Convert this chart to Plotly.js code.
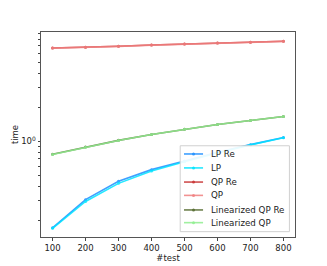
<!DOCTYPE html>
<html><head><meta charset="utf-8">
<script src="https://cdn.plot.ly/plotly-3.0.1.min.js"></script>
<style>html,body{margin:0;padding:0;background:#fff}#c{width:327px;height:266px}</style>
</head><body><div id="c"></div>
<script>
const nTest = [100, 200, 300, 400, 500, 600, 700, 800];
const lpRe = [0.172, 0.305, 0.443, 0.562, 0.67, 0.80, 0.935, 1.08];
const lp = [0.170, 0.294, 0.425, 0.546, 0.66, 0.79, 0.93, 1.075];
const qpRe = [6.70, 6.79, 6.93, 7.11, 7.26, 7.41, 7.52, 7.67];
const qp = [6.68, 6.78, 6.92, 7.10, 7.25, 7.40, 7.51, 7.66];
const linQpRe = [0.770, 0.89, 1.02, 1.15, 1.28, 1.41, 1.53, 1.66];
const linQp = [0.765, 0.888, 1.018, 1.148, 1.278, 1.408, 1.528, 1.658];
const seriesNames = ['LP Re', 'LP', 'QP Re', 'QP', 'Linearized QP Re', 'Linearized QP'];
const seriesColors = ['#1e90ff', '#00e5ff', '#c83232', '#f08080', '#556b2f', '#90ee90'];
const seriesValues = [lpRe, lp, qpRe, qp, linQpRe, linQp];
const yTickVals = [0.2,0.3,0.4,0.5,0.6,0.7,0.8,0.9,1,2,3,4,5,6,7,8,9];
const yTickText = yTickVals.map(v => v === 1 ? '10<sup>0</sup>' : '');
const xTickVals = [100,200,300,400,500,600,700,800];

const data = seriesNames.map((name, i) => ({
  x: nTest, y: seriesValues[i], name: name, type: 'scatter', mode: 'lines+markers',
  line: {color: seriesColors[i], width: 1.6}, marker: {color: seriesColors[i], size: 3},
  opacity: 0.85, showlegend: false
}));

// hand-built legend (compact, matplotlib-like spacing)
const legX0 = 0.548, legX1 = 0.978, legY0 = 0.026, legY1 = 0.445;
const rowY = [0.405, 0.337, 0.268, 0.203, 0.132, 0.070];
const shapes = [{type: 'rect', xref: 'paper', yref: 'paper', x0: legX0, x1: legX1, y0: legY0, y1: legY1,
  line: {color: '#d0d0d0', width: 1}, fillcolor: 'rgba(255,255,255,0.9)', layer: 'above'}];
const annotations = [];
seriesNames.forEach((name, i) => {
  shapes.push({type: 'line', xref: 'paper', yref: 'paper', x0: 0.563, x1: 0.638, y0: rowY[i], y1: rowY[i],
    line: {color: seriesColors[i], width: 1.6}, opacity: 0.85, layer: 'above'});
  shapes.push({type: 'circle', xref: 'paper', yref: 'paper', xsizemode: 'pixel', ysizemode: 'pixel',
    xanchor: 0.6005, yanchor: rowY[i], x0: -1.5, x1: 1.5, y0: -1.5, y1: 1.5,
    fillcolor: seriesColors[i], line: {width: 0}, opacity: 0.85, layer: 'above'});
  annotations.push({xref: 'paper', yref: 'paper', x: 0.66, y: rowY[i], xanchor: 'left', yanchor: 'middle',
    text: name, showarrow: false, font: {family: 'DejaVu Sans', size: 8.7, color: '#222'}});
});

const font = {family: 'DejaVu Sans', size: 8.5, color: '#222'};
const layout = {
  width: 327, height: 266,
  margin: {l: 41, r: 32, t: 32, b: 29},
  paper_bgcolor: '#fff', plot_bgcolor: '#fff',
  font: font,
  showlegend: false,
  shapes: shapes, annotations: annotations,
  xaxis: {range: [65, 835], tickvals: xTickVals, ticks: 'outside', ticklen: 3,
    tickcolor: '#444', showgrid: false, zeroline: false, showline: true, linecolor: '#555',
    linewidth: 1, mirror: true, tickfont: font,
    title: {text: '#test', font: font, standoff: 1}},
  yaxis: {type: 'log', range: [-0.846, 0.967], tickvals: yTickVals, ticktext: yTickText,
    ticks: 'outside', ticklen: 2.5, tickcolor: '#444', showgrid: false, zeroline: false,
    showline: true, linecolor: '#555', linewidth: 1, mirror: true, tickfont: font,
    title: {text: 'time', font: font, standoff: 1}}
};
Plotly.newPlot('c', data, layout, {staticPlot: true});
</script></body></html>
